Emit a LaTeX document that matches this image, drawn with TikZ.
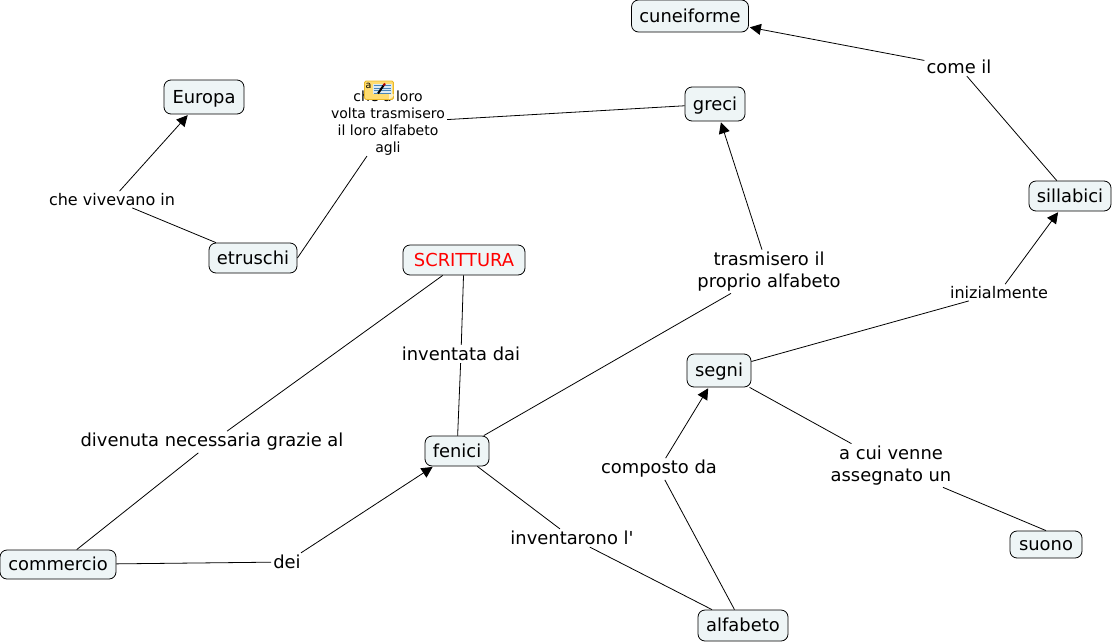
\documentclass[tikz,border=0pt]{standalone}
\usepackage{fontspec}
\setmainfont{DejaVu Sans}
\newfontfamily\straightfont{DejaVu Sans}
\usetikzlibrary{arrows.meta}
\definecolor{conceptfill}{HTML}{EEF5F6}
\definecolor{notebody}{HTML}{FFDC70}
\definecolor{noteedge}{HTML}{E9B829}
\definecolor{notepage}{HTML}{DCEBF5}
\definecolor{noteline}{HTML}{4A86B8}
\newcommand{\bigf}{\fontsize{17.9}{22}\selectfont}
\newcommand{\smallf}{\fontsize{16}{18}\selectfont}
\newcommand{\tinyf}{\fontsize{14}{16.8}\selectfont}
\tikzset{
  concept/.style={draw=black,line width=0.8pt,rounded corners=7pt,fill=conceptfill,font=\bigf,inner sep=0pt,anchor=center,text height=12pt,text depth=0pt},
  linkbig/.style={font=\bigf,align=center,inner sep=2pt,fill=white},
  linksmall/.style={font=\smallf,align=center,inner sep=2pt,fill=white},
  linktiny/.style={font=\tinyf,align=center,inner sep=2pt,fill=white},
  plain/.style={draw=black,line width=0.8pt},
  arrowed/.style={draw=black,line width=0.8pt,-{Triangle[length=11pt,width=11pt]},shorten >=1pt},
}
\begin{document}
\begin{tikzpicture}[x=1pt,y=-1pt]
\useasboundingbox (0,0) rectangle (1113,643);
% concepts
\node[concept,minimum width=117pt,minimum height=32pt] (cuneiforme) at (690,16) {cuneiforme};
\node[concept,minimum width=60pt,minimum height=34pt] (greci) at (715,104) {greci};
\node[concept,minimum width=80pt,minimum height=34pt] (europa) at (204,97) {Europa};
\node[concept,minimum width=82pt,minimum height=30pt] (sillabici) at (1070,196) {sillabici};
\node[concept,minimum width=88pt,minimum height=30pt] (etruschi) at (253,258) {etruschi};
\node[concept,minimum width=122pt,minimum height=30pt,text=red] (scrittura) at (464,260) {SCRITTURA};
\node[concept,minimum width=64pt,minimum height=33pt] (segni) at (719,370.5) {segni};
\node[concept,minimum width=64pt,minimum height=30pt] (fenici) at (457,451) {fenici};
\node[concept,minimum width=116pt,minimum height=29pt] (commercio) at (58,564.5) {commercio};
\node[concept,minimum width=72pt,minimum height=27pt] (suono) at (1046,544.5) {suono};
\node[concept,minimum width=90pt,minimum height=31pt] (alfabeto) at (743,625.5) {alfabeto};
% linking phrases
\node[linkbig] (comeil) at (959,67) {come il};
\node[linktiny] (loro) at (388,123) {che a loro\\volta trasmisero\\il loro alfabeto\\agli};
\node[linkbig] (trasm) at (769,271.5) {trasmisero il\\proprio alfabeto};
\node[linksmall] (iniz) at (999,292.5) {inizialmente};
\node[linkbig] (inventata) at (461,354) {inventata dai};
\node[linkbig] (divenuta) at (212,442) {divenuta necessaria grazie al};
\node[linkbig] (composto) at (659,469) {composto da};
\node[linkbig] (acui) at (891,465.5) {a cui venne\\assegnato un};
\node[linkbig] (inventarono) at (572,538) {\straightfont inventarono l'};
\node[linkbig] (dei) at (287,562) {dei};
\node[linksmall] (vivevano) at (112,199.5) {che vivevano in};
\coordinate (loroin) at (367,156);
% connectors
\draw[arrowed] (comeil) -- (cuneiforme);
\draw[plain] (sillabici) -- (comeil);
\draw[plain] (etruschi.east) -- (loroin);
\draw[plain] (loro) -- (greci);
\draw[plain] (fenici) -- (trasm);
\draw[arrowed] (trasm) -- (greci);
\draw[plain] (segni) -- (iniz);
\draw[arrowed] (iniz) -- (sillabici);
\draw[plain] (scrittura) -- (inventata);
\draw[plain] (inventata) -- (fenici);
\draw[plain] (scrittura) -- (divenuta);
\draw[plain] (divenuta) -- (commercio);
\draw[plain] (alfabeto) -- (composto);
\draw[arrowed] (composto) -- (segni);
\draw[plain] (segni) -- (acui);
\draw[plain] (acui) -- (suono.north);
\draw[plain] (fenici) -- (inventarono);
\draw[plain] (inventarono) -- (alfabeto);
\draw[plain] (commercio) -- (dei);
\draw[arrowed] (dei) -- (fenici);
\draw[plain] (etruschi) -- (vivevano);
\draw[arrowed] (vivevano) -- (europa);
% note icon
\filldraw[rounded corners=1.5pt,fill=notebody,draw=noteedge,line width=0.8pt] (364.5,81) rectangle (393.5,99.5);
\fill[notepage] (373,83.5) rectangle (391.5,94);
\foreach \yy in {85.5,88,90.5,93} \draw[noteline,line width=0.7pt] (373.5,\yy) -- (391,\yy);
\fill[white!60!notebody] (393.5,94) -- (393.5,96) -- (389,99.5) -- (389,94) -- cycle;
\node[inner sep=0pt,font=\fontsize{9.5}{10}\selectfont] at (368.5,86) {a};
\draw[black,line width=2pt] (378,93.5) -- (383.5,85.5);
\draw[red!70!black,line width=2pt] (383.5,85.5) -- (385,83.5);
\end{tikzpicture}
\end{document}
